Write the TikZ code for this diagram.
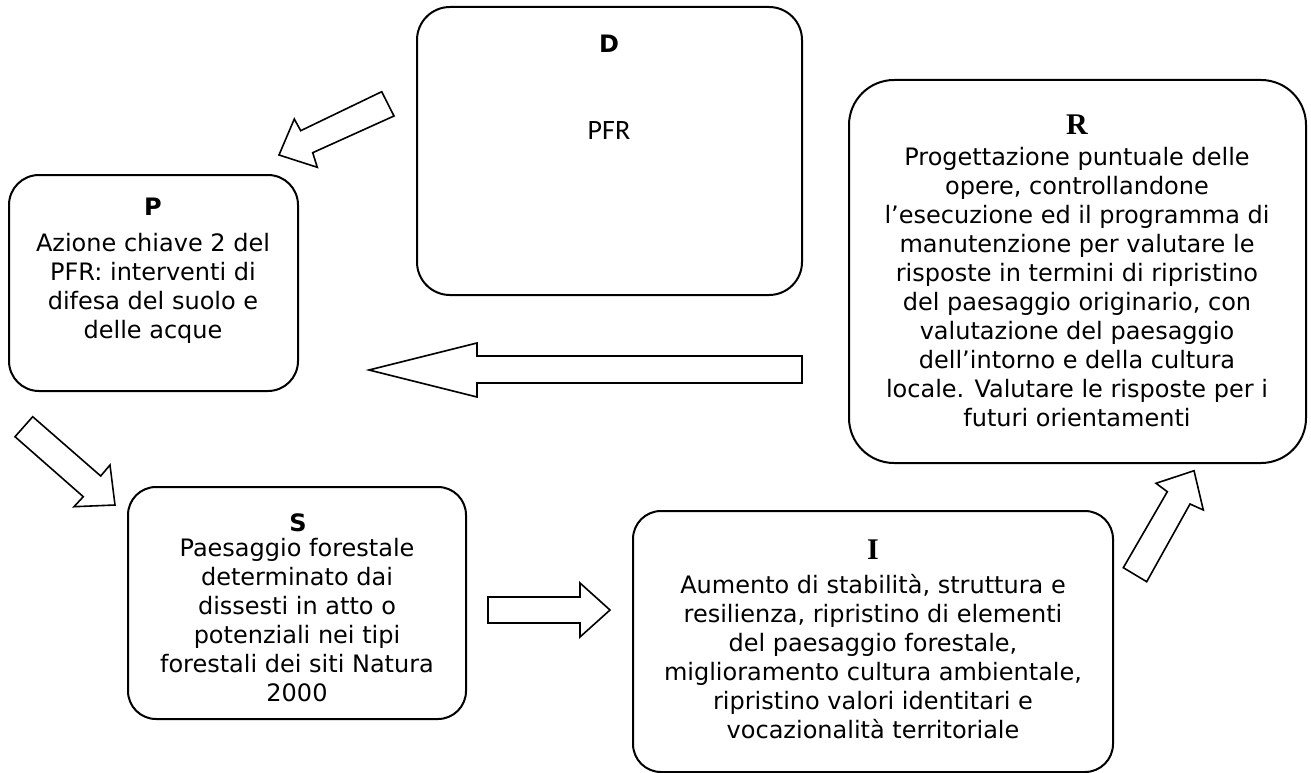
\documentclass[tikz,border=0pt]{standalone}
\usepackage{fontspec}
\setmainfont{DejaVu Sans}
\newfontfamily\calibfont{Carlito}
\newfontfamily\timesfont{Liberation Serif}
\begin{document}
\begin{tikzpicture}[x=1pt,y=-1pt,
  box/.style={draw=black,line width=2pt,rounded corners=#1,rectangle,inner sep=0pt},
  box/.default=30pt,
  bigarrow/.style={draw=black,line width=1.6pt,fill=white,line join=miter},
  body/.style={align=center,inner sep=0pt,font=\fontsize{24}{29}\selectfont},
  sanshead/.style={inner sep=0pt,font=\fontsize{24}{29}\selectfont\bfseries},
  serifhead/.style={inner sep=0pt,font=\fontsize{30}{34}\selectfont\timesfont\bfseries}]
\useasboundingbox (0,0) rectangle (1311,773);

% boxes
\node[box=33pt,minimum width=385pt,minimum height=288pt] (D) at (609.5,151) {};
\node[box=30pt,minimum width=289pt,minimum height=216pt] (P) at (153.5,283) {};
\node[box=45pt,minimum width=457pt,minimum height=383pt] (R) at (1077.5,271.5) {};
\node[box=28pt,minimum width=338pt,minimum height=232pt] (S) at (297,603) {};
\node[box=28pt,minimum width=480pt,minimum height=261pt] (I) at (873,641.5) {};

% D
\node[sanshead] (Dh) at (609,44) {D};
\node[inner sep=0pt,font=\fontsize{28}{32}\selectfont\calibfont] (Dt) at (609,131) {PFR};

% P
\node[sanshead] (Ph) at (153,207) {P};
\node[body] (Pt) at (153,288.5) {Azione chiave 2 del\\PFR: interventi di\\difesa del suolo e\\delle acque};

% R
\node[serifhead] (Rh) at (1077,125) {R};
\node[body] (Rt) at (1077,287.5) {Progettazione puntuale delle\\opere, controllandone\\l’esecuzione ed il programma di\\manutenzione per valutare le\\risposte in termini di ripristino\\del paesaggio originario, con\\valutazione del paesaggio\\dell’intorno e della cultura\\locale. Valutare le risposte per i\\futuri orientamenti};

% S
\node[sanshead] (Sh) at (298,523) {S};
\node[body] (St) at (297,620) {Paesaggio forestale\\determinato dai\\dissesti in atto o\\potenziali nei tipi\\forestali dei siti Natura\\2000};

% I
\node[serifhead] (Ih) at (873,550) {I};
\node[body] (It) at (873,657) {Aumento di stabilità, struttura e\\resilienza, ripristino di elementi\\del paesaggio forestale,\\miglioramento cultura ambientale,\\ripristino valori identitari e\\vocazionalità territoriale};

% block arrows between the stages
% D -> P
\draw[bigarrow] (279,155) -- (294.3,119) -- (300.7,130.7) -- (381.7,91.7)
  -- (394,116) -- (312.7,152.7) -- (317.3,167.3) -- cycle;
% R -> P
\draw[bigarrow] (369,370) -- (477,343) -- (477,356) -- (802,356)
  -- (802,383) -- (477,383) -- (477,397) -- cycle;
% P -> S
\draw[bigarrow] (115,505) -- (110,465) -- (100.7,476) -- (32.7,416.7)
  -- (15,436.7) -- (83.3,496.7) -- (74,506.7) -- cycle;
% S -> I
\draw[bigarrow] (610,610) -- (580,583) -- (580,597) -- (488,597)
  -- (488,623) -- (580,623) -- (580,637) -- cycle;
% I -> R
\draw[bigarrow] (1194,470.7) -- (1156,483.3) -- (1167.3,491.7) -- (1123.3,567.7)
  -- (1146.7,581.7) -- (1190,504) -- (1203.3,510) -- cycle;
\end{tikzpicture}
\end{document}
